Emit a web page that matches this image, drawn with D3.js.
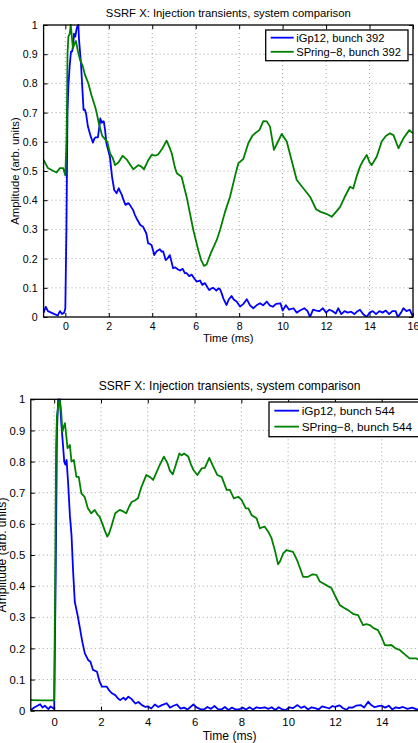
<!DOCTYPE html>
<html>
<head>
<meta charset="utf-8">
<script src="https://cdn.jsdelivr.net/npm/d3@7"></script>
<style>
  html, body { margin: 0; padding: 0; background: #fff; }
  svg { display: block; }
  text { font-family: "Liberation Sans", Arial, Helvetica, sans-serif; fill: #000; }
</style>
</head>
<body>
<svg id="chart" width="418" height="743"></svg>
<script>
// ---------------- DATA ----------------
const chartTitle = "SSRF X: Injection transients, system comparison";
const xLabel = "Time (ms)";
const yLabel = "Amplitude (arb. units)";
const xTicks = [0, 2, 4, 6, 8, 10, 12, 14, 16];
const yTicks = [0, 0.1, 0.2, 0.3, 0.4, 0.5, 0.6, 0.7, 0.8, 0.9, 1];
const xDomain = [-1, 16];
const yDomain = [0, 1];

const topLegend = ["iGp12, bunch 392", "SPring\u22128, bunch 392"];
const bottomLegend = ["iGp12, bunch 544", "SPring\u22128, bunch 544"];

// Top panel, iGp12 bunch 392
const topBlueT = [-1.0,-0.9,-0.8,-0.65,-0.5,-0.35,-0.25,-0.15,-0.05,0.0,0.05,0.1,0.14,0.2,0.26,0.31,0.36,0.4,0.46,0.5,0.55,0.6,0.63,0.72,0.8,0.84,0.9,0.95,1.04,1.15,1.27,1.33,1.38,1.5,1.58,1.61,1.68,1.72,1.77,1.83,1.89,2.05,2.15,2.25,2.36,2.46,2.52,2.59,2.68,2.77,2.9,2.97,3.12,3.2,3.32,3.45,3.58,3.73,3.81,3.9,3.97,4.05,4.09,4.2,4.35,4.43,4.5,4.62,4.7,4.81,4.96,5.05,5.19,5.28,5.4,5.5,5.59,5.7,5.82,5.95,6.05,6.2,6.3,6.43,6.55,6.63,6.72,6.81,6.95,7.05,7.12,7.2,7.27,7.42,7.52,7.65,7.75,7.88,8.04,8.2,8.35,8.5,8.65,8.8,8.96,9.1,9.27,9.4,9.55,9.7,9.9,10.0,10.15,10.3,10.5,10.65,10.8,11.0,11.15,11.26,11.4,11.55,11.7,11.85,12.0,12.15,12.3,12.45,12.56,12.7,12.85,13.0,13.15,13.3,13.45,13.56,13.7,13.87,14.0,14.15,14.3,14.45,14.6,14.75,14.9,15.05,15.2,15.3,15.45,15.56,15.7,15.85,16.0];
const topBlue  = [0.015,0.035,0.02,0.015,0.01,0.005,0.02,0.01,0.015,0.03,0.3,0.7,0.79,0.86,0.909,0.909,0.93,0.97,0.96,0.98,0.995,1.0,0.95,0.869,0.76,0.709,0.71,0.698,0.652,0.623,0.597,0.61,0.615,0.615,0.66,0.68,0.665,0.67,0.67,0.64,0.595,0.549,0.48,0.435,0.424,0.441,0.43,0.42,0.40,0.384,0.39,0.384,0.366,0.35,0.332,0.315,0.309,0.286,0.252,0.25,0.246,0.225,0.212,0.225,0.232,0.224,0.225,0.195,0.2,0.212,0.167,0.17,0.163,0.159,0.165,0.15,0.15,0.14,0.145,0.13,0.121,0.125,0.11,0.116,0.10,0.092,0.098,0.10,0.09,0.098,0.095,0.08,0.064,0.041,0.06,0.072,0.06,0.053,0.036,0.045,0.061,0.04,0.03,0.04,0.047,0.04,0.053,0.04,0.035,0.045,0.047,0.022,0.04,0.025,0.03,0.015,0.022,0.03,0.02,0.0,0.025,0.022,0.02,0.03,0.015,0.025,0.02,0.012,0.03,0.01,0.02,0.015,0.018,0.01,0.02,0.025,0.01,0.0,0.015,0.02,0.01,0.02,0.015,0.022,0.01,0.02,0.02,0.0,0.015,0.03,0.02,0.025,0.0];

// Top panel, SPring-8 bunch 392
const topGreenT = [-1.0,-0.8,-0.55,-0.4,-0.25,-0.1,0.0,0.06,0.1,0.14,0.2,0.25,0.3,0.35,0.42,0.49,0.58,0.68,0.8,0.9,1.06,1.2,1.37,1.44,1.55,1.7,1.93,2.06,2.18,2.29,2.45,2.64,2.82,3.0,3.13,3.36,3.5,3.62,3.8,3.97,4.15,4.28,4.45,4.66,4.8,4.9,5.05,5.13,5.35,5.58,5.89,6.12,6.25,6.38,6.5,6.7,6.97,7.12,7.35,7.58,7.8,7.96,8.19,8.42,8.6,8.73,8.93,9.11,9.27,9.42,9.6,9.75,9.96,10.19,10.4,10.65,10.96,11.26,11.54,11.75,11.95,12.1,12.26,12.64,12.85,13.1,13.25,13.4,13.56,13.7,13.87,14.0,14.1,14.33,14.56,14.75,14.94,15.1,15.33,15.56,15.83,16.0];
const topGreen  = [0.538,0.51,0.50,0.495,0.51,0.51,0.485,0.62,0.90,0.96,0.97,1.0,0.96,0.92,0.935,0.945,0.91,0.88,0.86,0.83,0.80,0.76,0.72,0.70,0.66,0.62,0.60,0.56,0.545,0.52,0.53,0.552,0.54,0.52,0.506,0.52,0.515,0.506,0.535,0.555,0.553,0.557,0.575,0.604,0.58,0.56,0.51,0.492,0.48,0.412,0.298,0.229,0.195,0.175,0.18,0.22,0.264,0.298,0.36,0.412,0.48,0.526,0.541,0.595,0.62,0.629,0.64,0.671,0.67,0.652,0.572,0.595,0.627,0.601,0.54,0.469,0.44,0.412,0.369,0.36,0.355,0.35,0.343,0.376,0.41,0.446,0.44,0.48,0.515,0.535,0.555,0.53,0.52,0.549,0.601,0.62,0.629,0.623,0.578,0.612,0.64,0.629];

// Bottom panel, iGp12 bunch 544
const botBlueT = [-1.0,-0.85,-0.6,-0.5,-0.4,-0.25,-0.15,0.0,0.06,0.12,0.17,0.24,0.31,0.43,0.48,0.53,0.6,0.67,0.74,0.81,0.88,1.0,1.1,1.2,1.31,1.45,1.55,1.66,1.83,1.94,2.04,2.25,2.35,2.47,2.61,2.72,2.82,2.96,3.05,3.17,3.3,3.47,3.6,3.75,3.9,4.0,4.15,4.3,4.45,4.6,4.81,4.95,5.1,5.24,5.4,5.55,5.7,5.95,6.1,6.25,6.4,6.55,6.7,6.85,7.0,7.15,7.3,7.45,7.6,7.75,7.9,8.05,8.2,8.35,8.5,8.65,8.8,9.0,9.15,9.3,9.45,9.6,9.75,9.9,10.05,10.2,10.4,10.55,10.7,10.85,11.0,11.15,11.3,11.45,11.6,11.75,11.9,12.0,12.2,12.35,12.5,12.6,12.75,12.9,13.1,13.25,13.42,13.55,13.7,13.85,14.0,14.15,14.3,14.45,14.6,14.75,14.9,15.1,15.3,15.5,16.0];
const botBlue  = [0.002,0.01,0.021,0.01,0.016,0.005,0.014,0.005,0.4,0.9,1.0,1.0,0.917,0.8,0.79,0.805,0.725,0.628,0.564,0.446,0.35,0.307,0.265,0.222,0.184,0.163,0.157,0.131,0.125,0.093,0.077,0.077,0.065,0.056,0.05,0.04,0.034,0.042,0.035,0.045,0.038,0.023,0.028,0.018,0.012,0.014,0.007,0.02,0.012,0.018,0.024,0.01,0.016,0.02,0.007,0.01,0.004,0.02,0.01,0.005,0.004,0.012,0.006,0.015,0.005,0.004,0.012,0.002,0.01,0.004,0.004,0.01,0.004,0.011,0.004,0.011,0.008,0.011,0.006,0.011,0.002,0.011,0.004,0.002,0.011,0.008,0.018,0.009,0.014,0.004,0.011,0.008,0.004,0.014,0.011,0.007,0.015,0.012,0.017,0.008,0.003,0.011,0.01,0.016,0.018,0.01,0.029,0.018,0.011,0.015,0.016,0.01,0.016,0.004,0.011,0.008,0.012,0.006,0.01,0.004,0.008];

// Bottom panel, SPring-8 bunch 544
const botGreenT = [-1.0,-0.5,-0.1,0.0,0.04,0.08,0.12,0.2,0.24,0.3,0.35,0.4,0.46,0.52,0.57,0.67,0.74,0.84,0.95,1.05,1.16,1.3,1.44,1.58,1.73,1.85,1.94,2.08,2.18,2.27,2.35,2.44,2.61,2.8,2.95,3.08,3.2,3.32,3.45,3.58,3.73,3.94,4.1,4.23,4.4,4.51,4.69,4.84,4.95,5.07,5.2,5.35,5.45,5.55,5.73,5.85,5.95,6.12,6.3,6.44,6.63,6.8,6.97,7.16,7.37,7.51,7.68,7.87,8.01,8.19,8.3,8.44,8.65,8.79,9.0,9.15,9.29,9.45,9.57,9.65,9.79,9.93,10.21,10.4,10.64,10.85,11.05,11.21,11.35,11.49,11.7,11.85,12.0,12.21,12.4,12.56,12.8,12.99,13.1,13.2,13.35,13.49,13.65,13.84,14.0,14.13,14.25,14.41,14.6,14.77,15.0,15.19,15.48,15.53,16.0];
const botGreen  = [0.034,0.033,0.033,0.034,0.4,0.85,0.95,0.99,1.0,0.96,0.896,0.91,0.923,0.88,0.843,0.853,0.80,0.805,0.751,0.751,0.698,0.687,0.65,0.634,0.645,0.63,0.623,0.596,0.575,0.559,0.57,0.591,0.634,0.645,0.64,0.634,0.655,0.671,0.675,0.682,0.719,0.757,0.75,0.741,0.77,0.789,0.816,0.795,0.77,0.759,0.79,0.826,0.82,0.826,0.816,0.79,0.773,0.757,0.778,0.78,0.812,0.784,0.757,0.751,0.709,0.709,0.682,0.687,0.677,0.65,0.65,0.628,0.618,0.586,0.591,0.575,0.554,0.51,0.47,0.479,0.505,0.516,0.51,0.48,0.43,0.43,0.438,0.436,0.415,0.409,0.40,0.394,0.37,0.339,0.33,0.323,0.31,0.307,0.29,0.275,0.278,0.275,0.265,0.259,0.235,0.211,0.21,0.211,0.2,0.195,0.18,0.168,0.168,0.165,0.16];

// ---------------- DRAW ----------------
const W = 418, H = 743;
const svg = d3.select("#chart");
svg.append("rect").attr("width", W).attr("height", H).attr("fill", "#fff");

const BLUE = "#0000ff", GREEN = "#008000";
const FONT = '"Liberation Sans", Arial, Helvetica, sans-serif';

function zip(t, v) { return t.map((d, i) => ({t: d, v: v[i]})); }

function drawPanel(cfg, id) {
  const x = d3.scaleLinear().domain(xDomain).range([cfg.left, cfg.right]);
  const y = d3.scaleLinear().domain(yDomain).range([cfg.bottom, cfg.top]);
  const s = cfg.scale;
  const g = svg.append("g");

  // grid
  const grid = g.append("g").attr("stroke", "#8c8c8c").attr("stroke-width", 0.8).attr("stroke-dasharray", "1,3");
  grid.selectAll("line.gx").data(xTicks.filter(d => d > xDomain[0] && d < xDomain[1])).join("line")
    .attr("x1", d => x(d)).attr("x2", d => x(d)).attr("y1", cfg.top).attr("y2", cfg.bottom);
  grid.selectAll("line.gy").data(yTicks.filter(d => d > yDomain[0] && d < yDomain[1])).join("line")
    .attr("x1", cfg.left).attr("x2", cfg.right).attr("y1", d => y(d)).attr("y2", d => y(d));

  // clip
  svg.append("clipPath").attr("id", "clip" + id).append("rect")
    .attr("x", cfg.left).attr("y", cfg.top - 1).attr("width", cfg.right - cfg.left).attr("height", cfg.bottom - cfg.top + 1);

  const line = d3.line().x(d => x(d.t)).y(d => y(d.v));
  const lines = g.append("g").attr("clip-path", `url(#clip${id})`).attr("fill", "none")
    .attr("stroke-width", 1.8).attr("stroke-linejoin", "round");
  lines.append("path").attr("d", line(zip(cfg.blueT, cfg.blue))).attr("stroke", BLUE);
  lines.append("path").attr("d", line(zip(cfg.greenT, cfg.green))).attr("stroke", GREEN);

  // axes (ticks inward on all four sides)
  const tl = 4;
  const axB = d3.axisBottom(x).tickValues(xTicks).tickSize(-tl).tickPadding(cfg.xPad).tickFormat(d3.format("d"));
  const axT = d3.axisTop(x).tickValues(xTicks).tickSize(-tl).tickFormat("");
  const axL = d3.axisLeft(y).tickValues(yTicks).tickSize(-tl).tickPadding(cfg.yPad).tickFormat(d => d3.format("")(d));
  const axR = d3.axisRight(y).tickValues(yTicks).tickSize(-tl).tickFormat("");
  const fs = (10.6 * s) + "px";
  [[axB, `translate(0,${cfg.bottom})`], [axT, `translate(0,${cfg.top})`],
   [axL, `translate(${cfg.left},0)`], [axR, `translate(${cfg.right},0)`]].forEach(([ax, tr]) => {
    const a = g.append("g").attr("transform", tr).call(ax);
    a.select(".domain").remove();
    a.selectAll("line").attr("stroke", "#000").attr("stroke-width", 1);
    a.selectAll("text").attr("font-size", fs).attr("font-family", FONT).attr("fill", "#000");
    if (ax === axB) {
      // tick labels whose position falls past the page edge are not drawn (as in the source image)
      a.selectAll(".tick").filter(d => x(d) > W).select("text").remove();
    }
  });
  g.append("rect").attr("x", cfg.left).attr("y", cfg.top)
    .attr("width", cfg.right - cfg.left).attr("height", cfg.bottom - cfg.top)
    .attr("fill", "none").attr("stroke", "#000").attr("stroke-width", 1.3);

  // title & labels
  const cx = (cfg.left + cfg.right) / 2;
  g.append("text").attr("x", cx).attr("y", cfg.titleY).attr("text-anchor", "middle")
    .attr("font-size", (11.3 * s) + "px").text(chartTitle);
  g.append("text").attr("x", cx).attr("y", cfg.xlabY).attr("text-anchor", "middle")
    .attr("font-size", (11.3 * s) + "px").text(xLabel);
  g.append("text").attr("transform", `translate(${cfg.ylabX},${(cfg.top + cfg.bottom) / 2}) rotate(-90)`)
    .attr("text-anchor", "middle").attr("font-size", (11.3 * s) + "px").text(yLabel);

  // legend
  const L = cfg.legend;
  const lg = g.append("g");
  lg.append("rect").attr("x", L.x).attr("y", L.y).attr("width", L.w).attr("height", L.h)
    .attr("fill", "#fff").attr("stroke", "#000").attr("stroke-width", 1.3);
  const items = [{label: cfg.labels[0], color: BLUE}, {label: cfg.labels[1], color: GREEN}];
  items.forEach((it, i) => {
    const yy = L.y + L.h * (i === 0 ? 0.25 : 0.71);
    lg.append("line").attr("x1", L.x + 5 * s).attr("x2", L.x + 28 * s).attr("y1", yy).attr("y2", yy)
      .attr("stroke", it.color).attr("stroke-width", 1.8);
    lg.append("text").attr("x", L.x + 30.5 * s).attr("y", yy).attr("dy", "0.35em")
      .attr("font-size", L.fs + "px").text(it.label);
  });
}

drawPanel({
  left: 43.6, right: 413, top: 25, bottom: 317, scale: 1,
  titleY: 17, xlabY: 342, ylabX: 19, xPad: 5.5, yPad: 6,
  blueT: topBlueT, blue: topBlue, greenT: topGreenT, green: topGreen,
  labels: topLegend,
  legend: {x: 265.7, y: 30, w: 142.3, h: 30.7, fs: 11.2}
}, "A");

drawPanel({
  left: 30.8, right: 428.5, top: 399.3, bottom: 710.7, scale: 1.07,
  titleY: 390, xlabY: 739.5, ylabX: 6, xPad: 7.5, yPad: 5.5,
  blueT: botBlueT, blue: botBlue, greenT: botGreenT, green: botGreen,
  labels: bottomLegend,
  legend: {x: 269, y: 402, w: 152, h: 34.7, fs: 11.8}
}, "B");
</script>
</body>
</html>
